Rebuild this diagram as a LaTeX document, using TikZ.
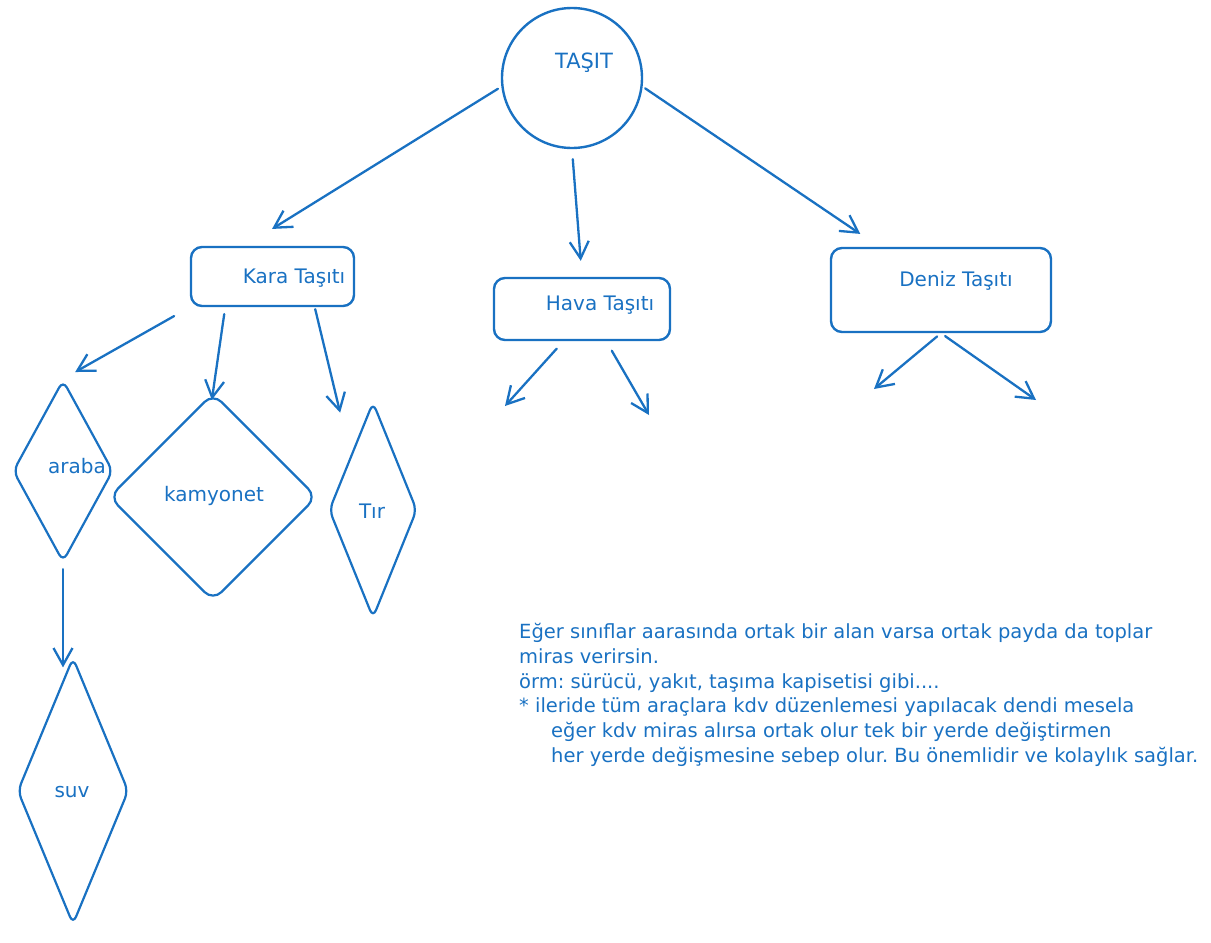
\documentclass[tikz,border=0pt]{standalone}
\usepackage{fontspec}
\setmainfont{DejaVu Sans}
\frenchspacing
\usetikzlibrary{shapes.geometric, arrows.meta}
\definecolor{pen}{HTML}{1971C2}
\tikzstyle{ring} = [circle, minimum size=140pt, inner sep=0pt, draw=pen, line width=2.4pt]
\tikzstyle{box} = [rectangle, rounded corners=11pt, inner sep=0pt, draw=pen, line width=2.4pt]
\tikzstyle{rhomb} = [diamond, rounded corners=8pt, inner sep=0pt, draw=pen, line width=2.2pt]
\tikzstyle{txt} = [text=pen, font=\fontsize{20}{24}\selectfont, inner sep=0pt]
\tikzstyle{arrow} = [draw=pen, line width=2.3pt, line cap=round, line join=round, -{Straight Barb[length=17pt, width=19pt]}]

\begin{document}
\begin{tikzpicture}[x=1pt, y=-1pt]
\useasboundingbox (0,0) rectangle (1211,943);

%% NODES

\node (tasit) [ring] at (572,78) {};
\node (tasit_t) [txt, font=\fontsize{21}{24}\selectfont] at (584,63) {TAŞIT};
\node (kara) [box, minimum width=163pt, minimum height=59pt] at (272.5,276.5) {};
\node (kara_t) [txt] at (294,278) {Kara Taşıtı};
\node (hava) [box, minimum width=176pt, minimum height=62pt] at (582,309) {};
\node (hava_t) [txt] at (600,305) {Hava Taşıtı};
\node (deniz) [box, minimum width=220pt, minimum height=84pt] at (941,290) {};
\node (deniz_t) [txt] at (956,281) {Deniz Taşıtı};
\node (araba) [rhomb, minimum width=100pt, minimum height=182pt] at (63,471) {};
\node (araba_t) [txt] at (77,466) {araba};
\node (kamyonet) [rhomb, minimum width=208pt, minimum height=208pt, rounded corners=12pt] at (213,497) {};
\node (kamyonet_t) [txt] at (214,496) {kamyonet};
\node (tir) [rhomb, minimum width=88pt, minimum height=216pt] at (373,510) {};
\node (tir_t) [txt] at (372,511) {Tır};
\node (suv) [rhomb, minimum width=111pt, minimum height=267pt] at (73,791) {};
\node (suv_t) [txt] at (72,792) {suv};
\node (note) [txt, anchor=north west, align=left, font=\fontsize{19.5}{24.8}\selectfont] at (519,623) {Eğer sınıflar aarasında ortak bir alan varsa ortak payda da toplar\\miras verirsin.\\örm: sürücü, yakıt, taşıma kapisetisi gibi....\\* ileride tüm araçlara kdv düzenlemesi yapılacak dendi mesela\\\hspace*{32pt}eğer kdv miras alırsa ortak olur tek bir yerde değiştirmen\\\hspace*{32pt}her yerde değişmesine sebep olur. Bu önemlidir ve kolaylık sağlar.};

\coordinate (hava_l) at (505,406);
\coordinate (hava_r) at (649,415);
\coordinate (deniz_l) at (874,389);
\coordinate (deniz_r) at (1036,400);

%% ARROWS

\draw [arrow, shorten <=4pt, shorten >=32pt] (tasit.187) -- (kara.132);
\draw [arrow, shorten <=10pt, shorten >=16pt] (tasit.south) -- (hava.north);
\draw [arrow, shorten <=3pt, shorten >=23pt] (tasit.-7) -- (deniz.145);
\draw [arrow, shorten <=18pt, shorten >=14pt] (kara.south west) -- (araba.north);
\draw [arrow, shorten <=7pt, shorten >=-8pt] (kara.213.5) -- (kamyonet.north);
\draw [arrow, shorten <=2pt, shorten >=44pt] (kara.324) -- (tir.north west);
\draw [arrow, shorten <=6pt, shorten >=-11pt] (araba.south) -- (araba.south |- suv.north);
\draw [arrow, shorten <=10pt] (hava.240) -- (hava_l);
\draw [arrow, shorten <=11pt] (hava.307.7) -- (hava_r);
\draw [arrow, shorten <=5pt] (deniz.south) -- (deniz_l);
\draw [arrow, shorten <=5pt] (deniz.south) -- (deniz_r);
\end{tikzpicture}
\end{document}
